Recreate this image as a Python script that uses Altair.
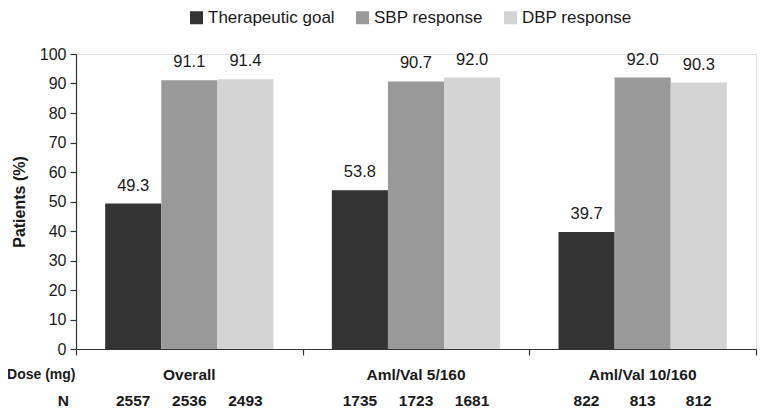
import altair as alt
import pandas as pd

groups = ["Overall", "Aml/Val 5/160", "Aml/Val 10/160"]
series = ["Therapeutic goal", "SBP response", "DBP response"]
values = [[49.3, 91.1, 91.4], [53.8, 90.7, 92.0], [39.7, 92.0, 90.3]]
ns = [[2557, 2536, 2493], [1735, 1723, 1681], [822, 813, 812]]
colors = ["#333333", "#999999", "#d4d4d4"]
y_ticks = list(range(0, 101, 10))

rows = []
for g, vals, nn in zip(groups, values, ns):
    for s, v, n in zip(series, vals, nn):
        rows.append({"group": g, "series": s, "value": v,
                     "label": f"{v:.1f}", "n": str(n)})
df = pd.DataFrame(rows)
gdf = pd.DataFrame({"group": groups})
side = pd.DataFrame({"t": ["Dose (mg)", "N"], "k": [0, 1]})

W, H = 680, 295
FONT = "Liberation Sans"
TXT = "#1a1a1a"
AX = "#333333"

x_axis = alt.Axis(labels=False, title=None, tickBand="extent",
                  ticks=True, tickSize=6, domainColor=AX,
                  tickColor=AX, domainWidth=1.2, tickWidth=1.2)
x_enc = alt.X("group:N", sort=groups,
              scale=alt.Scale(paddingInner=0, paddingOuter=0), axis=x_axis)
xo_enc = alt.XOffset("series:N", sort=series,
                     scale=alt.Scale(paddingInner=0, paddingOuter=0.52))
y_axis = alt.Axis(values=y_ticks, title="Patients (%)", grid=False,
                  labelOverlap=False, tickCount=11,
                  tickSize=6, labelPadding=4, titlePadding=12,
                  titleFontWeight="bold", titleFontSize=16,
                  labelFontSize=16, labelColor=TXT, titleColor=TXT,
                  domainColor=AX, tickColor=AX, domainWidth=1.2,
                  tickWidth=1.2, labelFont=FONT, titleFont=FONT)
y_enc = alt.Y("value:Q", scale=alt.Scale(domain=[0, 100], nice=False), axis=y_axis)

bars = alt.Chart(df).mark_bar().encode(
    x=x_enc, xOffset=xo_enc, y=y_enc,
    color=alt.Color("series:N", sort=series,
                    scale=alt.Scale(domain=series, range=colors),
                    legend=alt.Legend(orient="none", legendX=112, legendY=-45,
                                      direction="horizontal", title=None,
                                      symbolType="square", symbolSize=169,
                                      symbolStrokeWidth=0, labelFontSize=17,
                                      labelFont=FONT, labelColor=TXT,
                                      columnPadding=19, labelOffset=3)),
)

vals_txt = alt.Chart(df).mark_text(baseline="alphabetic", dy=-13, fontSize=16.5,
                                   font=FONT, color=TXT).encode(
    x=x_enc, xOffset=xo_enc, y=y_enc, text="label:N")

grp_txt = alt.Chart(gdf).mark_text(baseline="middle", fontSize=15.5,
                                   fontWeight="bold", font=FONT, color=TXT).encode(
    x=x_enc, y=alt.value(H + 26), text="group:N")

n_txt = alt.Chart(df).mark_text(baseline="middle", fontSize=15.5,
                                fontWeight="bold", font=FONT, color=TXT).encode(
    x=x_enc, xOffset=xo_enc, y=alt.value(H + 52), text="n:N")

dose_txt = alt.Chart(side).transform_filter("datum.k == 0").mark_text(
    align="right", baseline="middle", fontSize=14, fontWeight="bold",
    font=FONT, color=TXT).encode(x=alt.value(-0.5), y=alt.value(H + 26), text="t:N")
nlab_txt = alt.Chart(side).transform_filter("datum.k == 1").mark_text(
    align="right", baseline="middle", fontSize=15.5, fontWeight="bold",
    font=FONT, color=TXT).encode(x=alt.value(-7), y=alt.value(H + 52), text="t:N")

chart = alt.layer(bars, vals_txt, grp_txt, n_txt, dose_txt, nlab_txt).properties(
    width=W, height=H,
    autosize=alt.AutoSizeParams(type="none"),
    padding={"left": 68, "top": 46, "right": 2, "bottom": 61},
).configure_view(stroke=None).configure(background="white")

chart.save("out.html", embed_options={"renderer": "svg", "actions": False})
